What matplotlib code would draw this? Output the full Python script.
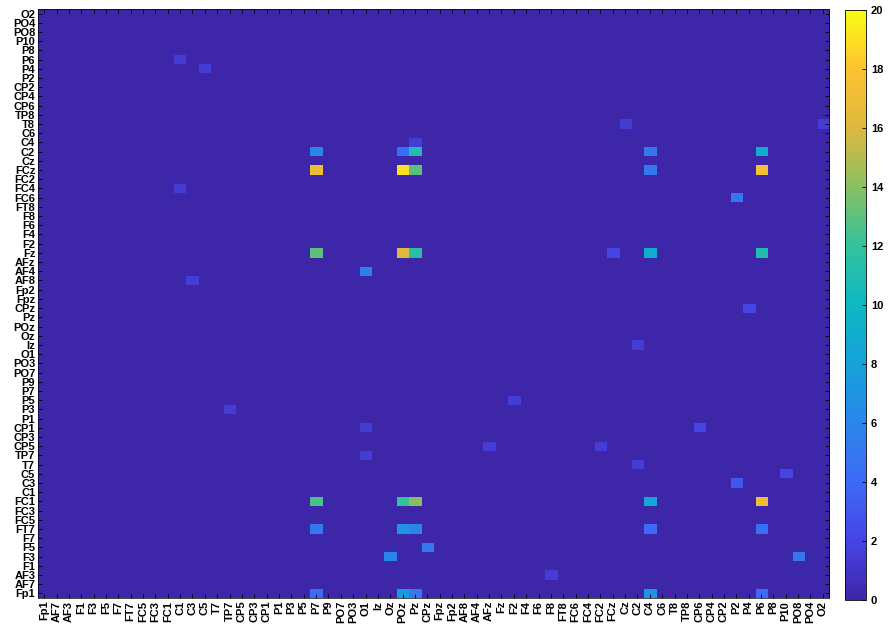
import numpy as np
import matplotlib
matplotlib.use('Agg')
import matplotlib.pyplot as plt
from matplotlib.colors import LinearSegmentedColormap

# 64 channel names, same order on both axes (bottom->top, left->right)
channels = ['Fp1', 'AF7', 'AF3', 'F1', 'F3', 'F5', 'F7', 'FT7', 'FC5', 'FC3', 'FC1',
            'C1', 'C3', 'C5', 'T7', 'TP7', 'CP5', 'CP3', 'CP1', 'P1', 'P3', 'P5', 'P7',
            'P9', 'PO7', 'PO3', 'O1', 'Iz', 'Oz', 'POz', 'Pz', 'CPz', 'Fpz', 'Fp2', 'AF8',
            'AF4', 'AFz', 'Fz', 'F2', 'F4', 'F6', 'F8', 'FT8', 'FC6', 'FC4', 'FC2', 'FCz',
            'Cz', 'C2', 'C4', 'C6', 'T8', 'TP8', 'CP6', 'CP4', 'CP2', 'P2', 'P4', 'P6',
            'P8', 'P10', 'PO8', 'PO4', 'O2']

# non-zero cells: row channel (y), column channel (x), count
hit_rows = ['P6', 'P4', 'T8', 'T8', 'C4',
            'C2', 'C2', 'C2', 'C2', 'C2',
            'FCz', 'FCz', 'FCz', 'FCz', 'FCz',
            'FC4', 'FC6',
            'Fz', 'Fz', 'Fz', 'Fz', 'Fz', 'Fz',
            'AF4', 'AF8', 'CPz', 'Iz', 'P5', 'P3', 'CP1', 'CP1', 'CP5', 'CP5',
            'TP7', 'T7', 'C5', 'C3',
            'FC1', 'FC1', 'FC1', 'FC1', 'FC1',
            'FT7', 'FT7', 'FT7', 'FT7', 'FT7',
            'F5', 'F3', 'F3', 'AF3',
            'Fp1', 'Fp1', 'Fp1', 'Fp1', 'Fp1']
hit_cols = ['C1', 'C5', 'Cz', 'O2', 'Pz',
            'P7', 'POz', 'Pz', 'C4', 'P6',
            'P7', 'POz', 'Pz', 'C4', 'P6',
            'C1', 'P2',
            'P7', 'POz', 'Pz', 'FCz', 'C4', 'P6',
            'O1', 'C3', 'P4', 'C2', 'F2', 'TP7', 'O1', 'CP6', 'AFz', 'FC2',
            'O1', 'C2', 'P10', 'P2',
            'P7', 'POz', 'Pz', 'C4', 'P6',
            'P7', 'POz', 'Pz', 'C4', 'P6',
            'CPz', 'Oz', 'PO8', 'F8',
            'P7', 'POz', 'Pz', 'C4', 'P6']
hit_vals = [1.5, 1.5, 1.5, 1.5, 1.5,
            6, 4.5, 11, 5, 9,
            17, 19, 13, 5, 17.5,
            1.5, 5,
            13, 16, 11.5, 2, 9, 11,
            5.5, 1.5, 2, 1.5, 1.5, 1.5, 1.5, 2, 1.5, 1.5,
            1.5, 1.5, 2, 3,
            12.5, 12, 14, 8.5, 17,
            5, 7, 6, 4, 4.5,
            5, 6, 5, 1.5,
            4, 7.5, 5, 7, 4]

n = len(channels)
idx = {name: i for i, name in enumerate(channels)}
mat = np.zeros((n, n))
for r, c, v in zip(hit_rows, hit_cols, hit_vals):
    mat[idx[r], idx[c]] = v

# parula-like colormap
parula = LinearSegmentedColormap.from_list('parula', [
    (0.00, '#3E26A8'), (0.10, '#4645E6'), (0.20, '#3D6AF6'),
    (0.30, '#2A86EA'), (0.40, '#16A2DA'), (0.50, '#0DB8C2'),
    (0.60, '#33C29C'), (0.70, '#88C062'), (0.80, '#DDB940'),
    (0.90, '#FDC232'), (1.00, '#F9FB14')])

font = ['Liberation Sans', 'DejaVu Sans']
fig = plt.figure(figsize=(8.88, 6.27), dpi=100)
ax = fig.add_axes([38 / 888, 1 - 598 / 627, 791 / 888, 589 / 627])
im = ax.imshow(mat, cmap=parula, vmin=0, vmax=20, origin='lower',
               aspect='auto', interpolation='nearest')

ax.set_xticks(range(n))
ax.set_yticks(range(n))
ax.set_xticklabels(channels, rotation=90, fontsize=8, fontweight='bold', family=font)
ax.set_yticklabels(channels, fontsize=8, fontweight='bold', family=font)
ax.tick_params(direction='in', top=True, right=True, length=3, width=0.6, pad=2)
for s in ax.spines.values():
    s.set_linewidth(0.5)

cax = fig.add_axes([845 / 888, 1 - 600 / 627, 21 / 888, 590 / 627])
cb = fig.colorbar(im, cax=cax, ticks=range(0, 21, 2))
cb.ax.tick_params(direction='in', length=3, width=0.6, labelsize=8)
for t in cb.ax.get_yticklabels():
    t.set_fontweight('bold')
    t.set_family(font)
cb.outline.set_linewidth(0.6)

fig.savefig('out.png', dpi=100)
